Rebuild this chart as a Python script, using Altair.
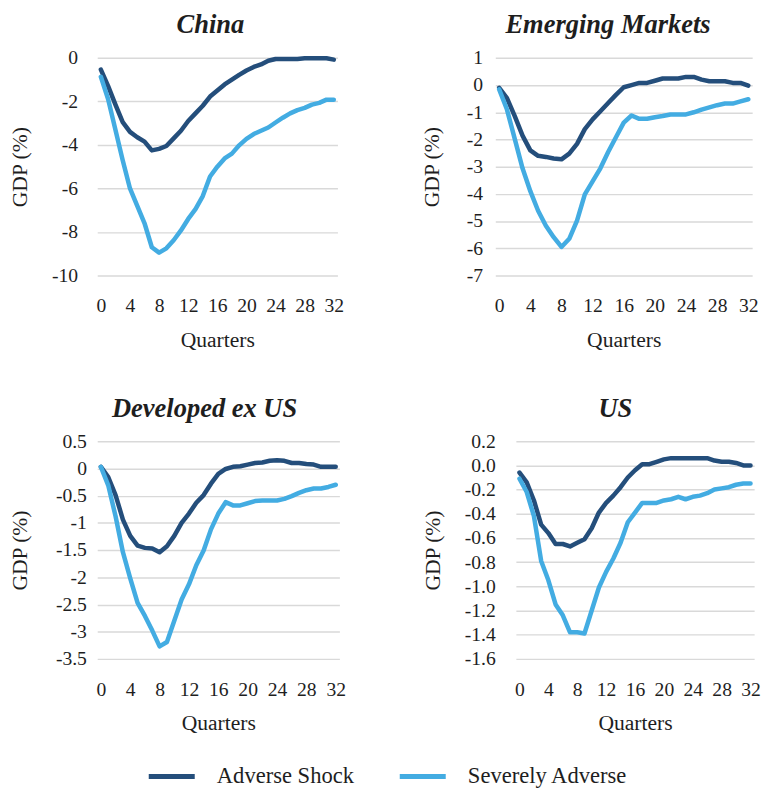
import altair as alt
import pandas as pd

quarters = list(range(33))
scenarios = ["Adverse Shock", "Severely Adverse"]

china_adverse = [-0.54, -1.3, -2.15, -2.95, -3.4, -3.65, -3.85, -4.25, -4.18, -4.05, -3.7, -3.35, -2.9,
                 -2.55, -2.2, -1.78, -1.5, -1.22, -1.0, -0.78, -0.58, -0.42, -0.3, -0.13, -0.05, -0.05,
                 -0.05, -0.05, -0.02, -0.02, -0.02, -0.02, -0.08]
china_severe = [-0.87, -1.9, -3.3, -4.7, -6.0, -6.8, -7.6, -8.7, -8.95, -8.75, -8.38, -7.93, -7.4,
                -6.95, -6.35, -5.45, -5.0, -4.62, -4.4, -4.02, -3.72, -3.5, -3.35, -3.2, -2.97, -2.75,
                -2.55, -2.4, -2.3, -2.15, -2.07, -1.92, -1.92]

em_adverse = [-0.1, -0.48, -1.14, -1.86, -2.4, -2.6, -2.64, -2.7, -2.73, -2.52, -2.16, -1.62, -1.26,
              -0.96, -0.66, -0.36, -0.08, 0.0, 0.08, 0.08, 0.16, 0.24, 0.24, 0.24, 0.3, 0.3, 0.2,
              0.14, 0.14, 0.14, 0.08, 0.08, -0.02]
em_severe = [-0.16, -0.9, -1.98, -3.06, -3.9, -4.62, -5.17, -5.59, -5.95, -5.65, -4.98, -4.02, -3.54,
             -3.06, -2.46, -1.92, -1.38, -1.12, -1.24, -1.24, -1.18, -1.14, -1.08, -1.08, -1.08, -1.0,
             -0.9, -0.82, -0.74, -0.68, -0.68, -0.6, -0.52]

dev_adverse = [0.03, -0.16, -0.49, -0.94, -1.24, -1.42, -1.46, -1.47, -1.54, -1.43, -1.24, -1.0, -0.83,
               -0.63, -0.49, -0.28, -0.1, -0.01, 0.03, 0.04, 0.07, 0.1, 0.11, 0.14, 0.15, 0.14, 0.1,
               0.1, 0.08, 0.07, 0.03, 0.03, 0.03]
dev_severe = [0.03, -0.31, -0.88, -1.54, -2.02, -2.47, -2.71, -2.98, -3.27, -3.19, -2.8, -2.41, -2.13,
              -1.78, -1.51, -1.12, -0.83, -0.62, -0.68, -0.68, -0.64, -0.6, -0.59, -0.59, -0.59, -0.56,
              -0.51, -0.45, -0.4, -0.37, -0.37, -0.34, -0.3]

us_adverse = [-0.06, -0.14, -0.29, -0.49, -0.56, -0.65, -0.65, -0.67, -0.64, -0.61, -0.52, -0.39, -0.31,
              -0.25, -0.18, -0.1, -0.04, 0.01, 0.01, 0.03, 0.05, 0.06, 0.06, 0.06, 0.06, 0.06, 0.06,
              0.04, 0.03, 0.03, 0.02, 0.0, 0.0]
us_severe = [-0.11, -0.22, -0.42, -0.79, -0.95, -1.15, -1.24, -1.38, -1.38, -1.39, -1.2, -1.01, -0.88,
             -0.77, -0.64, -0.47, -0.39, -0.31, -0.31, -0.31, -0.29, -0.28, -0.26, -0.28, -0.26, -0.25,
             -0.23, -0.2, -0.19, -0.18, -0.16, -0.15, -0.15]

series = {
    "China": (china_adverse, china_severe),
    "Emerging Markets": (em_adverse, em_severe),
    "Developed ex US": (dev_adverse, dev_severe),
    "US": (us_adverse, us_severe),
}

rows = []
for region, (adv, sev) in series.items():
    for q, a, s in zip(quarters, adv, sev):
        rows.append({"region": region, "q": q, "scenario": scenarios[0], "value": a})
        rows.append({"region": region, "q": q, "scenario": scenarios[1], "value": s})
df = pd.DataFrame(rows)

FONT = "Liberation Serif"
TEXT = "#1e1e1e"
DARK = "#244e7b"
LIGHT = "#43ace2"

color = alt.Color(
    "scenario:N",
    scale=alt.Scale(domain=scenarios, range=[DARK, LIGHT]),
    legend=alt.Legend(
        title=None, orient="none", direction="horizontal", legendX=50, legendY=707,
        symbolType="stroke", symbolSize=2200, symbolStrokeWidth=5,
        labelFont=FONT, labelFontSize=23, labelColor=TEXT, labelOffset=20,
        columnPadding=36, labelLimit=300,
    ),
)


def panel(region, ymin, ymax, yticks, fmt, width, label_pad, title_x, title_dx):
    lab = "replace(format(datum.value, '" + fmt + "'), '\u2212', '-')"
    lines = (
        alt.Chart(df)
        .transform_filter(alt.datum.region == region)
        .mark_line(strokeWidth=4.6, strokeCap="round", strokeJoin="round")
        .encode(
            x=alt.X(
                "q:Q",
                scale=alt.Scale(domain=[-0.5, 32.5], nice=False, zero=False),
                axis=alt.Axis(values=list(range(0, 33, 4)), title="Quarters", grid=False,
                              domain=False, ticks=False, labelPadding=21, titleY=55,
                              titleBaseline="top"),
            ),
            y=alt.Y(
                "value:Q",
                scale=alt.Scale(domain=[ymin, ymax], nice=False, zero=False),
                axis=alt.Axis(values=yticks, labelExpr=lab, title="GDP (%)", domain=False,
                              ticks=False, labelPadding=label_pad, titleX=title_x,
                              titleBaseline="middle", grid=True, gridColor="#d9d9d9",
                              gridWidth=1.5),
            ),
            color=color,
            order=alt.Order("q:Q"),
        )
    )
    head = (
        alt.Chart(pd.DataFrame({"name": [region]}))
        .mark_text(font=FONT, fontSize=27, fontWeight="bold", fontStyle="italic",
                   color=TEXT, align="center", baseline="middle")
        .encode(text="name:N", x=alt.value(width / 2 + title_dx), y=alt.value(-33))
    )
    return alt.layer(lines, head).properties(width=width, height=222)


china = panel("China", -10, 0, [0, -2, -4, -6, -8, -10], "d", 245, 20, -79, -7)
em = panel("Emerging Markets", -7, 1, [1, 0, -1, -2, -3, -4, -5, -6, -7], "d", 262, 13, -65, -16)
dev = panel("Developed ex US", -3.5, 0.5, [0.5, 0, -0.5, -1, -1.5, -2, -2.5, -3, -3.5], "~g", 247, 11, -79, -14)
us = panel("US", -1.6, 0.2, [0.2, 0.0, -0.2, -0.4, -0.6, -0.8, -1.0, -1.2, -1.4, -1.6], ".1f", 243, 21, -85, -20)

chart = (
    alt.vconcat(
        alt.hconcat(china, em, spacing=78),
        alt.hconcat(dev, us, spacing=76),
        spacing=46,
    )
    .configure(font=FONT, padding={"left": 0, "top": -4, "right": 0, "bottom": 0})
    .configure_view(stroke=None)
    .configure_axis(labelFont=FONT, labelFontSize=20, labelColor=TEXT,
                    titleFont=FONT, titleFontSize=22, titleColor=TEXT, titleFontWeight="normal")
)

chart.save("out.html", embed_options={"renderer": "svg", "actions": False})
